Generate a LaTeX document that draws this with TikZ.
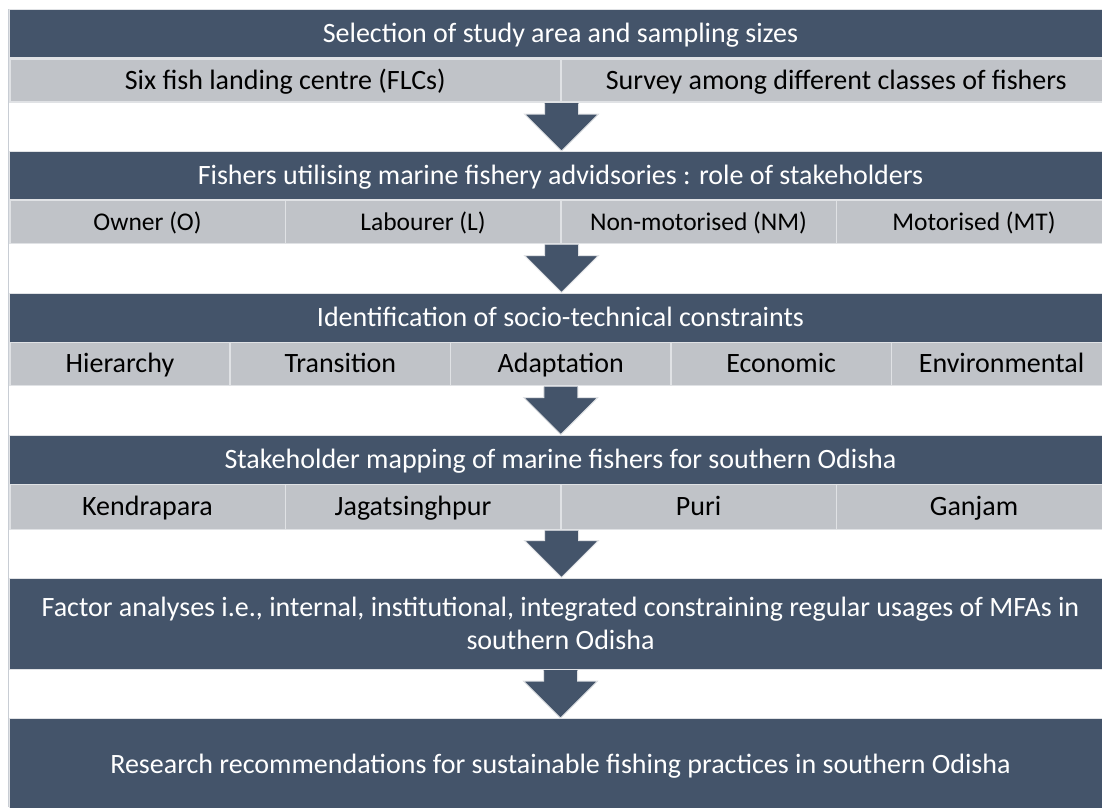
\documentclass[tikz,border=0pt]{standalone}
\usepackage{fontspec}
\setmainfont{Carlito}
\usetikzlibrary{calc}
\definecolor{band}{RGB}{68,84,106}
\definecolor{cell}{RGB}{192,195,200}
\definecolor{rim}{RGB}{224,226,229}
\definecolor{edge}{RGB}{200,205,212}
\begin{document}
\begin{tikzpicture}[x=1pt,y=-1pt,
  oneline/.style={text height=18pt, text depth=0pt},
  bandbox/.style={fill=band, draw=rim, line width=1pt, text=white,
    font=\fontsize{28}{33}\selectfont, minimum width=1102pt,
    inner sep=0pt, anchor=north west, align=center},
  cellbox/.style={fill=cell, draw=rim, line width=1.5pt, text=black,
    font=\fontsize{28}{33}\selectfont, inner sep=0pt, oneline,
    anchor=north west, minimum height=43pt},
  smallcell/.style={font=\fontsize{25.5}{30}\selectfont, text height=16.5pt},
  flowfill/.style={fill=band},
  flowrim/.style={draw=rim, line width=1pt}]
\useasboundingbox (0,0) rectangle (1102,807);
\clip (0,0) rectangle (1102,807);
\fill[white] (0,0) rectangle (1102,807);
% left frame line
\draw[edge, line width=0.8pt] (8.3,9) -- (8.3,807);

% stage 1
\node[bandbox, oneline, minimum height=48pt] (d1) at (9,9) {Selection of study area and sampling sizes};
\node[cellbox, minimum width=551pt] (r1c1) at (9,58) {Six fish landing centre (FLCs)};
\node[cellbox, minimum width=551pt] (r1c2) at (560,58) {Survey among different classes of fishers};

% stage 2
\node[bandbox, oneline, minimum height=48pt] (d2) at (9,151) {Fishers utilising marine fishery advidsories : role of stakeholders};
\foreach \i/\t in {1/Owner (O),2/Labourer (L),3/Non-motorised (NM),4/Motorised (MT)}
  \node[cellbox, smallcell, minimum width=275.5pt] (r2c\i) at ({9+275.5*(\i-1)},199.5) {\t};

% stage 3
\node[bandbox, oneline, minimum height=49pt] (d3) at (9,292.5) {Identification of socio-technical constraints};
\foreach \i/\t in {1/Hierarchy,2/Transition,3/Adaptation,4/Economic,5/Environmental}
  \node[cellbox, minimum width=220.4pt] (r3c\i) at ({9+220.4*(\i-1)},341.5) {\t};

% stage 4
\node[bandbox, oneline, minimum height=49pt] (d4) at (9,434.5) {Stakeholder mapping of marine fishers for southern Odisha};
\foreach \i/\t in {1/Kendrapara,2/Jagatsinghpur\hspace*{20pt},3/Puri,4/Ganjam}
  \node[cellbox, minimum width=275.5pt, minimum height=45pt] (r4c\i) at ({9+275.5*(\i-1)},483.5) {\t};

% stage 5
\node[bandbox, minimum height=91pt] (d5) at (9,577.5) {Factor analyses i.e., internal, institutional, integrated constraining regular usages of MFAs in\\southern Odisha};

% stage 6
\node[bandbox, oneline, minimum height=92pt] (d6) at (9,718) {Research recommendations for sustainable fishing practices in southern Odisha};

% block arrows between stages
\foreach \s/\e in {r1c1.south east/d2.north, r2c2.south east/d3.north,
                   r3c3.south/d4.north, r4c2.south east/d5.north, d5.south/d6.north} {
  \fill[flowfill] let \p1=(\s), \p2=(\e) in
    (\x1-17pt,\y1-0.5pt) -- (\x1+17pt,\y1-0.5pt) -- (\x1+17pt,\y2+37pt) -- (\x1+37pt,\y2+37pt)
    -- (\x1,\y2) -- (\x1-37pt,\y2+37pt) -- (\x1-17pt,\y2+37pt) -- cycle;
  \draw[flowrim] let \p1=(\s), \p2=(\e) in
    (\x1-17pt,\y1-1pt) -- (\x1-17pt,\y2+37pt) -- (\x1-37pt,\y2+37pt)
    -- (\x1,\y2) -- (\x1+37pt,\y2+37pt) -- (\x1+17pt,\y2+37pt) -- (\x1+17pt,\y1-1pt);
}
\end{tikzpicture}
\end{document}
